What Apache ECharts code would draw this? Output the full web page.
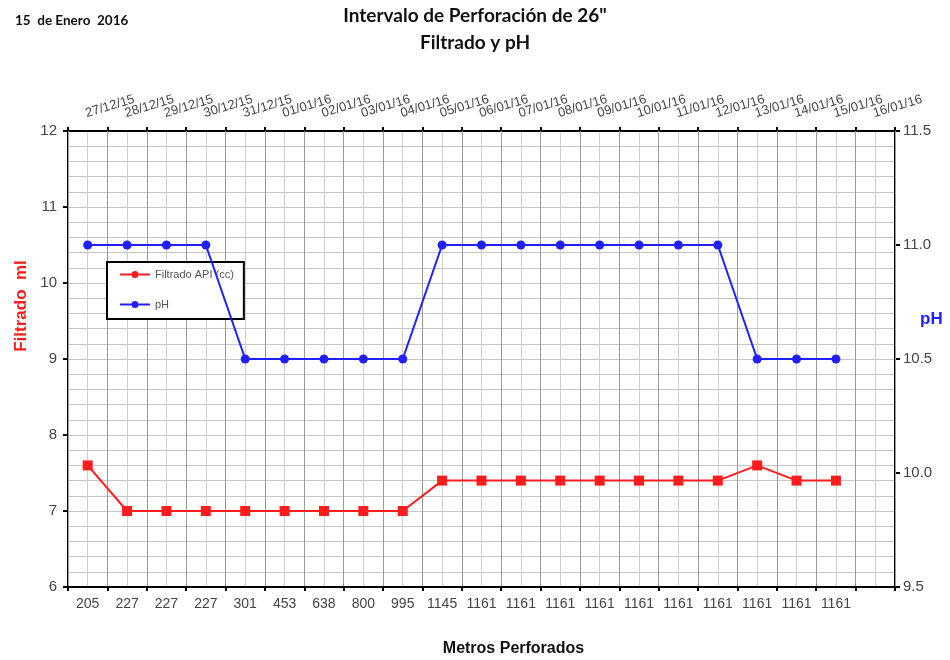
<!DOCTYPE html>
<html><head><meta charset="utf-8">
<script src="https://cdn.jsdelivr.net/npm/echarts@6/dist/echarts.min.js"></script>
<style>html,body{margin:0;padding:0;background:#fff}#c{width:950px;height:660px}</style>
</head><body><div id="c"></div>
<script>
var metros = ['205','227','227','227','301','453','638','800','995','1145','1161','1161','1161','1161','1161','1161','1161','1161','1161','1161',''];
var fechas = ['27/12/15','28/12/15','29/12/15','30/12/15','31/12/15','01/01/16','02/01/16','03/01/16','04/01/16','05/01/16','06/01/16','07/01/16','08/01/16','09/01/16','10/01/16','11/01/16','12/01/16','13/01/16','14/01/16','15/01/16','16/01/16'];
var filtrado = [7.6,7,7,7,7,7,7,7,7,7.4,7.4,7.4,7.4,7.4,7.4,7.4,7.4,7.6,7.4,7.4];
var ph = [11.0,11.0,11.0,11.0,10.5,10.5,10.5,10.5,10.5,11.0,11.0,11.0,11.0,11.0,11.0,11.0,11.0,10.5,10.5,10.5];
var leftTicks = {min:6, max:12, interval:1};
var rightTicks = {min:9.5, max:11.5, interval:0.5};

var RED = '#ff1c1c', BLUE = '#1f1fff';
var iconPath = 'path://M0,3 L11.5,3 L11.5,5 L0,5 Z M18.5,3 L30,3 L30,5 L18.5,5 Z M11.5,4 A3.5,3.5 0 1,1 18.5,4 A3.5,3.5 0 1,1 11.5,4 Z';
var chart = echarts.init(document.getElementById('c'));
chart.setOption({
  animation:false,
  backgroundColor:'#fff',
  title:[
    {text:'Intervalo de Perforación de 26"\nFiltrado y pH', left:'center', top:-3,
     textStyle:{fontFamily:'Lato', fontWeight:'bold', fontSize:19, color:'#111', lineHeight:27}},
    {text:'15  de Enero  2016', left:10, top:9,
     textStyle:{fontFamily:'Lato', fontWeight:'bold', fontSize:13.5, color:'#111'}}
  ],
  legend:{
    orient:'vertical', left:107, top:262,
    backgroundColor:'#fff', borderColor:'#000', borderWidth:2, borderRadius:0,
    padding:[7,10,9,13], itemGap:19, itemWidth:30, itemHeight:8,
    textStyle:{fontFamily:'Arial', fontSize:11, color:'#555'},
    data:[{name:'Filtrado API (cc)', icon:iconPath, itemStyle:{color:RED}},
          {name:'pH', icon:iconPath, itemStyle:{color:BLUE}}]
  },
  grid:{left:68, right:55, top:131, bottom:73, outerBoundsMode:'none', containLabel:false},
  xAxis:[
    {type:'category', data:metros, position:'bottom', boundaryGap:true,
     axisLine:{lineStyle:{color:'#000', width:2}},
     axisTick:{show:true, length:4, lineStyle:{color:'#000', width:2}},
     axisLabel:{interval:0, margin:10, fontFamily:'Arial', fontSize:14, color:'#444'},
     splitLine:{show:true, interval:0, lineStyle:{color:'#9a9a9a', width:1}},
     name:'Metros Perforados', nameLocation:'middle', nameGap:54,
     nameTextStyle:{fontFamily:'Arial', fontWeight:'bold', fontSize:16, color:'#111', padding:[0,0,0,64]},
     z:3},
    {type:'category', data:fechas, position:'top', boundaryGap:true,
     axisLine:{lineStyle:{color:'#000', width:2}},
     axisTick:{show:true, length:4, lineStyle:{color:'#000', width:2}},
     axisLabel:{interval:0, rotate:-17, margin:11, align:'left', verticalAlign:'bottom',
       fontFamily:'Arial', fontSize:13, color:'#444'},
     splitLine:{show:false}},
    {type:'value', min:0, max:21, interval:0.5, position:'bottom',
     axisLine:{show:false}, axisTick:{show:false}, axisLabel:{show:false},
     splitLine:{show:true, lineStyle:{color:'#d0d0d0', width:1}}, z:0}
  ],
  yAxis:[
    {type:'value', min:leftTicks.min, max:leftTicks.max, interval:leftTicks.interval, position:'left',
     axisLine:{show:true, lineStyle:{color:'#000', width:2}},
     axisTick:{show:true, length:5, lineStyle:{color:'#000', width:2}},
     axisLabel:{margin:11, fontFamily:'Arial', fontSize:15, color:'#444'},
     splitLine:{show:true, lineStyle:{color:'#c4c4c4', width:1}},
     minorTick:{show:false, splitNumber:5},
     minorSplitLine:{show:true, lineStyle:{color:'#c4c4c4', width:1}},
     name:'Filtrado  ml', nameLocation:'middle', nameGap:38,
     nameTextStyle:{fontFamily:'Arial', fontWeight:'bold', fontSize:17, color:RED, padding:[0,0,0,106]}},
    {type:'value', min:rightTicks.min, max:rightTicks.max, interval:rightTicks.interval, position:'right',
     axisLine:{show:true, lineStyle:{color:'#000', width:2}},
     axisTick:{show:true, length:5, lineStyle:{color:'#000', width:2}},
     axisLabel:{margin:8, fontFamily:'Arial', fontSize:15, color:'#444',
       formatter:function(v){return v.toFixed(1);}},
     splitLine:{show:false},
     name:'pH', nameLocation:'middle', nameGap:25, nameRotate:0, nameMoveOverlap:false,
     nameTextStyle:{fontFamily:'Arial', fontWeight:'bold', fontSize:17, color:BLUE, align:'left', verticalAlign:'bottom', lineHeight:80}}
  ],
  series:[
    {name:'Filtrado API (cc)', type:'line', xAxisIndex:0, yAxisIndex:0, data:filtrado,
     symbol:'rect', symbolSize:10, color:RED, lineStyle:{width:2, color:RED},
     itemStyle:{color:RED}, z:5},
    {name:'pH', type:'line', xAxisIndex:0, yAxisIndex:1, data:ph,
     symbol:'circle', symbolSize:9, color:BLUE, lineStyle:{width:2, color:BLUE},
     itemStyle:{color:BLUE}, z:5}
  ]
});
</script></body></html>
